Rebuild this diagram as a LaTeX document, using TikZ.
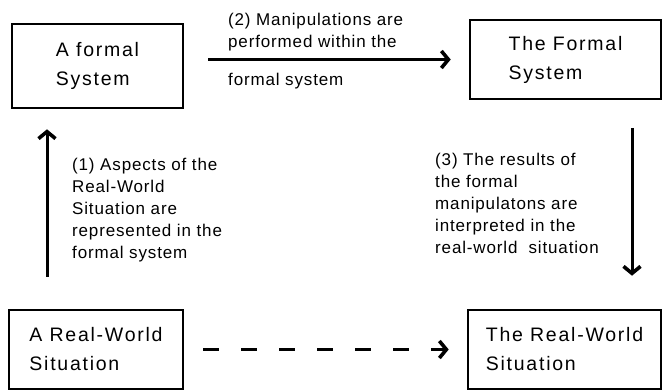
\documentclass[tikz,border=0pt]{standalone}
\usepackage{fontspec}
\usetikzlibrary{arrows.meta}
\newfontfamily\boxfont{Liberation Sans}[LetterSpace=9]
\newfontfamily\notefont{Liberation Sans}[LetterSpace=5]
\begin{document}
\begin{tikzpicture}[x=1pt, y=-1pt,
  stagebox/.style={draw, line width=2.6pt, inner sep=0pt, align=left,
    font={\boxfont\fontsize{19.5}{29}\selectfont}},
  note/.style={inner sep=0pt, anchor=north west, align=left,
    font={\notefont\fontsize{17}{22}\selectfont}},
  flow/.style={line width=3pt,
    -{Straight Barb[length=7pt,width=17pt,line width=3.6pt]}},
  hint/.style={flow, line width=2.6pt, dash pattern=on 16pt off 22pt}]
\useasboundingbox (0,0) rectangle (663,390);

% the four stages
\node[stagebox, minimum width=171pt, minimum height=84pt] (f1) at (97.5,66)
  {A formal\\System};
\node[stagebox, minimum width=191pt, minimum height=79pt] (f2) at (565.5,59.5)
  {The Formal\\System};
\node[stagebox, minimum width=174pt, minimum height=79pt] (r1) at (96,349.5)
  {A Real-World\\Situation};
\node[stagebox, minimum width=193pt, minimum height=79pt] (r2) at (564.5,349.5)
  {The Real-World\\Situation};

% columns of the vertical connectors
\coordinate (lx) at (47,0);
\coordinate (rx) at (632,0);

% connectors
\draw[flow, shorten <=24pt, shorten >=18pt] (f1.east |- f2.west) -- (f2.west);
\draw[flow, shorten <=32pt, shorten >=20pt] (r1.north -| lx) -- (f1.south -| lx);
\draw[flow, shorten <=27.5pt, shorten >=33pt] (f2.south -| rx) -- (r2.north -| rx);
\draw[hint, shorten <=19pt, shorten >=18pt] (r1.east) -- (r2.west);

% step descriptions
\node[note] (s2) at (228,13) {(2) Manipulations are\\performed within the};
\node[note] (s2b) at (228,73) {formal system};
\node[note] (s1) at (72,158) {(1) Aspects of the\\Real-World\\Situation are\\represented in the\\formal system};
\node[note] (s3) at (435,153) {(3) The results of\\the formal\\manipulatons are\\interpreted in the\\real-world\ \ situation};
\end{tikzpicture}
\end{document}
